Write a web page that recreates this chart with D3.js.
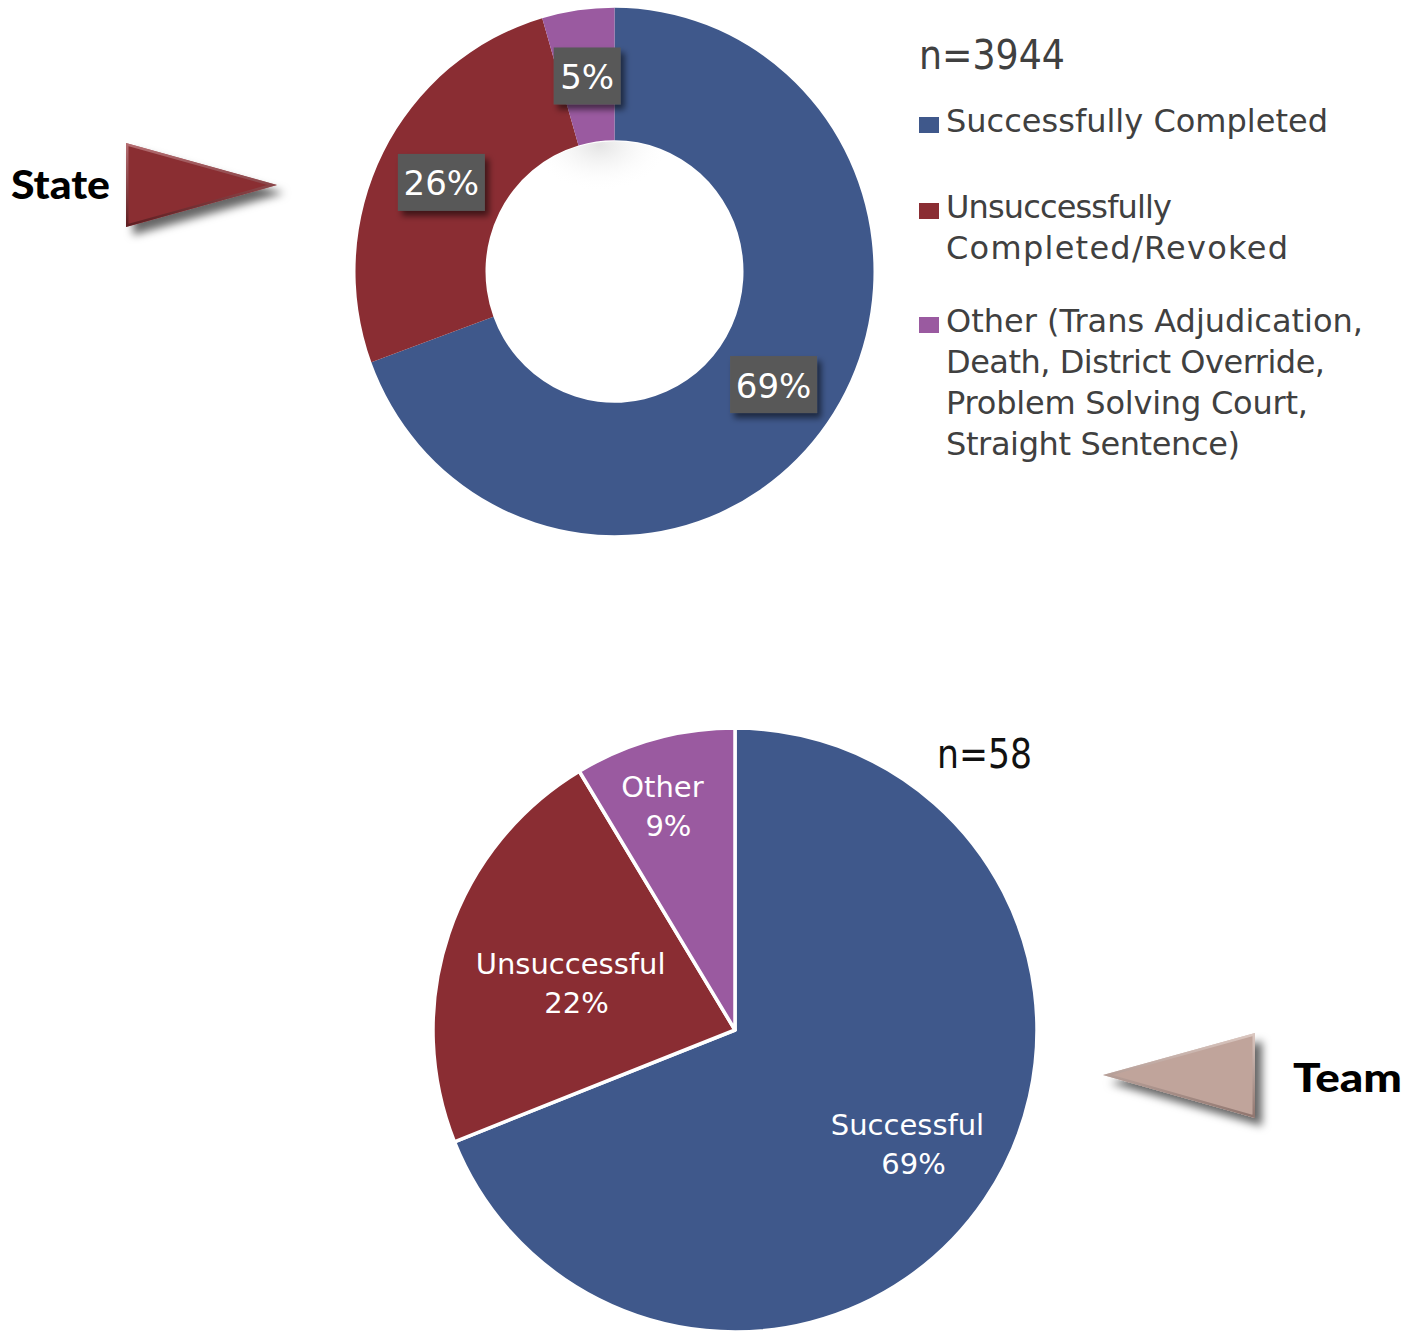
<!DOCTYPE html>
<html><head><meta charset="utf-8">
<script src="https://cdn.jsdelivr.net/npm/d3@7"></script>
<style>html,body{margin:0;padding:0;background:#fff;}svg{display:block;}</style>
</head><body>
<svg id="chart" width="1424" height="1334"></svg>
<script>
// ---------- data ----------
const stateCategories = ["Successfully Completed", "Unsuccessfully Completed/Revoked", "Other (Trans Adjudication, Death, District Override, Problem Solving Court, Straight Sentence)"];
const stateLegendLines = [["Successfully Completed"], ["Unsuccessfully", "Completed/Revoked"], ["Other (Trans Adjudication,", "Death, District Override,", "Problem Solving Court,", "Straight Sentence)"]];
const stateShares = [69.4, 26.1, 4.5];
const stateN = 3944;
const teamCategories = ["Successful", "Unsuccessful", "Other"];
const teamCounts = [40, 13, 5];
const teamN = 58;
const colors = ["#3F588B", "#8A2D33", "#9A5AA0"];

// ---------- layout (not data) ----------
const FONT = "'DejaVu Sans', sans-serif";
const legendLineWidths = [[382], [226, 342], [417, 379, 362, 294]];
const teamLabelR = [0.69, 0.55, 0.75];
const teamLabelShift = [[0, -3], [-7, 6], [-12, -6]];

const svg = d3.select("#chart");
const defs = svg.append("defs");
function shadow(id, dx, dy, sd, op) {
  const f = defs.append("filter").attr("id", id).attr("x", "-30%").attr("y", "-30%").attr("width", "170%").attr("height", "170%");
  f.append("feDropShadow").attr("dx", dx).attr("dy", dy).attr("stdDeviation", sd).attr("flood-color", "#000").attr("flood-opacity", op);
}
shadow("boxShadow", 4, 5, 3, 0.55);
shadow("arrowShadow", 7, 8, 4, 0.6);

const pieGen = d3.pie().sort(null).value(d => d);

// ---- State donut ----
const dcx = 614.5, dcy = 271.5, rOuter = 259, rInner = 129, sy = 1.018;
const gD = svg.append("g").attr("transform", `translate(${dcx},${dcy})`);
const gDs = gD.append("g").attr("transform", `scale(1,${sy})`);
const arcD = d3.arc().innerRadius(rInner).outerRadius(rOuter);
const arcsD = pieGen(stateShares);
gDs.selectAll("path.slice").data(arcsD).join("path").attr("class", "slice")
  .attr("d", arcD).attr("fill", (d, i) => colors[i]);

// subtle shading inside the hole (clipped to the hole)
defs.append("clipPath").attr("id", "holeClip").append("circle").attr("r", rInner - 1);
const hg = defs.append("radialGradient").attr("id", "holeShade");
hg.append("stop").attr("offset", "0%").attr("stop-color", "#e4e4e4");
hg.append("stop").attr("offset", "100%").attr("stop-color", "#fff").attr("stop-opacity", 0);
gDs.append("ellipse").attr("clip-path", "url(#holeClip)").attr("cx", -15).attr("cy", -rInner + 5).attr("rx", 70).attr("ry", 45).attr("fill", "url(#holeShade)");

const lblD = gD.selectAll("g.lbl").data(arcsD).join("g").attr("class", "lbl")
  .attr("transform", d => { const c = arcD.centroid(d); return `translate(${c[0]},${c[1] * sy})`; });
lblD.append("rect")
  .attr("x", (d, i) => -(i === 2 ? 67 : 87) / 2).attr("y", -28.5)
  .attr("width", (d, i) => i === 2 ? 67 : 87).attr("height", 57)
  .attr("fill", "#595959").attr("filter", "url(#boxShadow)");
lblD.append("text").attr("text-anchor", "middle").attr("y", 13)
  .attr("font-family", FONT).attr("font-size", 34).attr("fill", "#fff")
  .text(d => Math.round(d.data) + "%");

// ---- Legend ----
const lg = svg.append("g").attr("font-family", FONT).attr("fill", "#404040");
lg.append("text").attr("x", 919).attr("y", 69).attr("font-size", 41)
  .attr("textLength", 146).attr("lengthAdjust", "spacingAndGlyphs").text("n=" + stateN);
const legendTop = [132, 218, 332];
stateLegendLines.forEach((lines, i) => {
  lg.append("rect").attr("x", 919).attr("y", legendTop[i] - 15).attr("width", 20).attr("height", 16).attr("fill", colors[i]);
  lines.forEach((ln, j) => {
    lg.append("text").attr("x", 946).attr("y", legendTop[i] + j * 41).attr("font-size", 32)
      .attr("textLength", legendLineWidths[i][j]).attr("lengthAdjust", "spacing").text(ln);
  });
});

// ---- Team pie ----
const pcx = 735, pcy = 1030, rPie = 302;
const gP = svg.append("g").attr("transform", `translate(${pcx},${pcy})`);
const arcP = d3.arc().innerRadius(0).outerRadius(rPie);
const arcsP = pieGen(teamCounts);
gP.selectAll("path.slice").data(arcsP).join("path").attr("class", "slice")
  .attr("d", arcP).attr("fill", (d, i) => colors[i]).attr("stroke", "#fff").attr("stroke-width", 3.5).attr("stroke-linejoin", "round");
const lblP = gP.selectAll("g.lbl").data(arcsP).join("g").attr("class", "lbl")
  .attr("transform", (d, i) => {
    const r = rPie * teamLabelR[i];
    const c = d3.arc().innerRadius(r).outerRadius(r).centroid(d);
    return `translate(${c[0] + teamLabelShift[i][0]},${c[1] + teamLabelShift[i][1]})`;
  })
  .attr("font-family", FONT).attr("font-size", 29).attr("fill", "#fff").attr("text-anchor", "middle");
lblP.append("text").attr("y", -9).text((d, i) => teamCategories[i]);
lblP.append("text").attr("x", 6).attr("y", 30).text(d => Math.round(d.data / teamN * 100) + "%");
svg.append("text").attr("x", 937).attr("y", 768).attr("font-family", FONT).attr("font-size", 40)
  .attr("textLength", 95).attr("lengthAdjust", "spacingAndGlyphs").attr("fill", "#111").text("n=" + teamN);

// ---- Arrows ----
function arrow(pts, fill, light, dark, id) {
  const g = svg.append("g");
  const line = d3.line();
  const grad = defs.append("linearGradient").attr("id", id).attr("x1", "0").attr("y1", "0").attr("x2", "0").attr("y2", "1");
  grad.append("stop").attr("offset", "0%").attr("stop-color", light);
  grad.append("stop").attr("offset", "100%").attr("stop-color", dark);
  g.append("path").attr("d", line(pts) + "Z").attr("fill", fill).attr("filter", "url(#arrowShadow)");
  defs.append("clipPath").attr("id", id + "c").append("path").attr("d", line(pts) + "Z");
  g.append("path").attr("d", line(pts) + "Z").attr("fill", "none").attr("stroke", `url(#${id})`).attr("stroke-width", 5).attr("clip-path", `url(#${id}c)`).attr("opacity", 0.7);
}
arrow([[126, 143], [277, 185], [126, 227]], "#8A2E33", "#c98a8e", "#4a1518", "gState");
arrow([[1255, 1033], [1103, 1075], [1255, 1118]], "#C0A49B", "#e8d8d2", "#7a605a", "gTeam");
svg.append("text").attr("x", 11).attr("y", 199).attr("font-family", "Lato, sans-serif").attr("font-weight", 900).attr("font-size", 40)
  .attr("textLength", 99).attr("lengthAdjust", "spacingAndGlyphs").attr("fill", "#000").text("State");
svg.append("text").attr("x", 1293).attr("y", 1092).attr("font-family", "Lato, sans-serif").attr("font-weight", 900).attr("font-size", 40)
  .attr("textLength", 109).attr("lengthAdjust", "spacingAndGlyphs").attr("fill", "#000").text("Team");
</script>
</body></html>
